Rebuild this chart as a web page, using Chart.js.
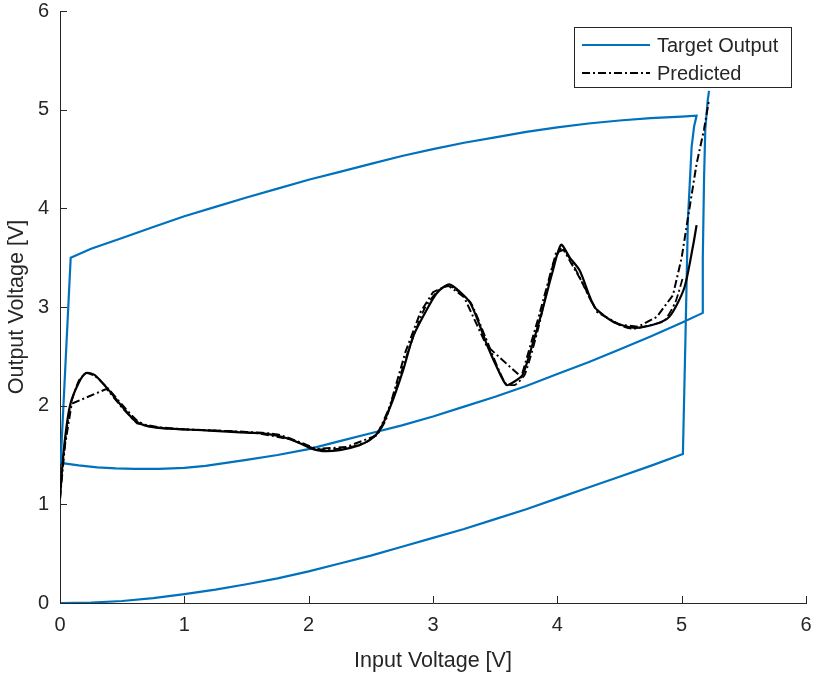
<!DOCTYPE html>
<html>
<head>
<meta charset="utf-8">
<script src="https://cdn.jsdelivr.net/npm/chart.js@4"></script>
<style>
html,body{margin:0;padding:0;background:#fff;}
#wrap{width:818px;height:674px;}
</style>
</head>
<body>
<div id="wrap"><canvas id="c" width="818" height="674"></canvas></div>
<script>
// ---- data ----
const xTicks = [0, 1, 2, 3, 4, 5, 6];
const yTicks = [0, 1, 2, 3, 4, 5, 6];
const seriesNames = ["Target Output", "Predicted"];

// Target output (hysteresis loop, traced in order)
const targetX = [0,0.25,0.5,0.75,1,1.25,1.5,1.75,2,2.25,2.5,2.75,3,3.25,3.5,3.75,4,4.25,4.5,4.75,5.01,
  5.03,5.05,5.08,5.10,5.12,
  5.0,4.75,4.5,4.25,4.0,3.75,3.5,3.25,3.0,2.75,2.5,2.25,2.0,1.75,1.5,1.25,1.0,0.75,0.5,0.25,0.086,
  0.005,
  0.15,0.3,0.45,0.6,0.8,1.0,1.17,1.5,1.75,2,2.25,2.5,2.75,3,3.25,3.5,3.75,4,4.25,4.5,4.75,5,5.17,
  5.17,5.18,5.19,5.21,5.22];
const targetY = [0,0.005,0.02,0.05,0.09,0.135,0.19,0.25,0.32,0.40,0.48,0.57,0.66,0.75,0.85,0.95,1.06,1.17,1.28,1.39,1.51,
  2.66,3.88,4.62,4.83,4.94,
  4.93,4.915,4.89,4.86,4.82,4.775,4.72,4.665,4.60,4.53,4.45,4.37,4.29,4.20,4.11,4.015,3.92,3.81,3.70,3.59,3.50,
  1.42,
  1.395,1.375,1.365,1.36,1.36,1.37,1.39,1.45,1.50,1.56,1.64,1.72,1.80,1.89,1.99,2.09,2.20,2.32,2.44,2.57,2.70,2.84,2.94,
  3.5,4.3,4.8,5.1,5.19];

// Predicted (dash-dot traces)
const predX = [0,0.04,0.094,0.375,0.5,0.62,0.8,1.0,1.3,1.6,1.85,2.05,2.3,2.55,2.62,2.78,2.9,3.0,3.12,3.25,3.43,3.71,3.85,3.99,4.05,4.2,4.32,4.5,4.65,4.8,4.93,5.0,5.05,5.12,5.18,5.22];
const predY = [1.06,1.6,2.02,2.17,1.98,1.82,1.78,1.76,1.745,1.72,1.66,1.56,1.58,1.70,1.85,2.55,2.95,3.15,3.22,3.1,2.61,2.29,2.9,3.55,3.58,3.25,2.95,2.82,2.80,2.9,3.12,3.5,3.9,4.45,4.8,5.1];

const pred2X = [0.02,0.08,0.15,0.21,0.28,0.39,0.5,0.62,0.72,0.9,1.2,1.5,1.75,1.95,2.08,2.3,2.48,2.56,2.66,2.8,2.93,3.05,3.14,3.3,3.42,3.58,3.66,3.74,3.85,3.97,4.04,4.16,4.3,4.46,4.6,4.76,4.86,4.95,5.01];
const pred2Y = [1.40,1.98,2.25,2.33,2.30,2.17,2.01,1.85,1.79,1.765,1.75,1.735,1.71,1.62,1.56,1.57,1.64,1.74,2.02,2.55,2.98,3.18,3.21,3.05,2.70,2.23,2.21,2.32,2.8,3.45,3.6,3.35,3.0,2.84,2.78,2.82,2.86,3.05,3.3];

// Fitted (solid black)
const fitX = [0,0.03,0.08,0.15,0.21,0.28,0.39,0.5,0.6,0.68,0.84,1.17,1.45,1.63,1.8,1.93,2.01,2.11,2.25,2.41,2.5,2.57,2.66,2.76,2.84,2.94,3.03,3.13,3.22,3.3,3.38,3.43,3.51,3.59,3.65,3.72,3.8,3.88,3.96,4.03,4.1,4.18,4.3,4.45,4.61,4.77,4.9,5.02,5.09,5.12];
const fitY = [1.06,1.55,2.0,2.23,2.33,2.31,2.16,1.99,1.85,1.80,1.77,1.75,1.73,1.72,1.68,1.62,1.57,1.54,1.55,1.60,1.66,1.75,2.0,2.36,2.70,2.95,3.14,3.23,3.15,3.04,2.80,2.63,2.40,2.21,2.24,2.31,2.62,2.97,3.35,3.63,3.50,3.37,3.00,2.85,2.79,2.82,2.90,3.19,3.61,3.83];

// ---- build ----
const pts = (xs, ys) => xs.map((x, i) => ({x: x, y: ys[i]}));
const BLUE = '#0072BD';
const AX = '#262626';
const FONT = "'Liberation Sans', Arial, Helvetica, sans-serif";
const DASHDOT = [8, 3, 2, 3];

const innerTicks = {
  id: 'innerTicks',
  afterDraw(chart) {
    const ctx = chart.ctx, xs = chart.scales.x, ys = chart.scales.y, ca = chart.chartArea;
    ctx.save();
    ctx.strokeStyle = AX; ctx.lineWidth = 1;
    ctx.beginPath();
    xTicks.forEach(v => { const p = Math.round(xs.getPixelForValue(v)) + 0.5; ctx.moveTo(p, ca.bottom); ctx.lineTo(p, ca.bottom - 7); });
    yTicks.forEach(v => { const p = Math.round(ys.getPixelForValue(v)) + 0.5; ctx.moveTo(ca.left, p); ctx.lineTo(ca.left + 7, p); });
    ctx.stroke();
    // legend
    const bx = 574.5, by = 27.5, bw = 217, bh = 60;
    ctx.fillStyle = '#fff'; ctx.fillRect(bx, by, bw, bh);
    ctx.strokeStyle = '#262626'; ctx.lineWidth = 1; ctx.strokeRect(bx, by, bw, bh);
    ctx.font = '20px ' + FONT; ctx.textBaseline = 'middle'; ctx.fillStyle = AX; ctx.textAlign = 'left';
    const rows = [{c: BLUE, d: []}, {c: '#000', d: DASHDOT}];
    rows.forEach((r, i) => {
      const y = 45 + i * 28;
      ctx.beginPath(); ctx.strokeStyle = r.c; ctx.lineWidth = 2; ctx.setLineDash(r.d);
      ctx.moveTo(582, y); ctx.lineTo(650, y); ctx.stroke();
      ctx.setLineDash([]);
      ctx.fillText(seriesNames[i], 657, y + 1);
    });
    ctx.restore();
  }
};

new Chart(document.getElementById('c'), {
  type: 'scatter',
  data: {
    datasets: [
      {label: seriesNames[0], data: pts(targetX, targetY), showLine: true, borderColor: BLUE, borderWidth: 2.2, pointRadius: 0, tension: 0, order: 3},
      {label: 'fit', data: pts(fitX, fitY), showLine: true, borderColor: '#000', borderWidth: 2.2, pointRadius: 0, tension: 0.25, order: 2},
      {label: seriesNames[1], data: pts(predX, predY), showLine: true, borderColor: '#000', borderWidth: 2, borderDash: DASHDOT, pointRadius: 0, tension: 0, order: 1},
      {label: 'pred2', data: pts(pred2X, pred2Y), showLine: true, borderColor: '#000', borderWidth: 1.8, borderDash: DASHDOT, pointRadius: 0, tension: 0.2, order: 1}
    ]
  },
  options: {
    responsive: false,
    animation: false,
    layout: {padding: {top: 11, right: 12, left: 0, bottom: 0}},
    plugins: {legend: {display: false}, tooltip: {enabled: false}},
    scales: {
      x: {
        type: 'linear', min: 0, max: 6,
        afterFit(s) { s.height = 71; s.paddingLeft = 0; s.paddingRight = 0; },
        afterBuildTicks(s) { s.ticks = xTicks.map(v => ({value: v})); },
        grid: {display: false, drawTicks: false},
        border: {display: true, color: AX, width: 1},
        ticks: {color: AX, font: {family: FONT, size: 20}, padding: 10, maxRotation: 0},
        title: {display: true, text: 'Input Voltage [V]', color: AX, font: {family: FONT, size: 21.5}, padding: {top: 0, bottom: 0}}
      },
      y: {
        type: 'linear', min: 0, max: 6,
        afterFit(s) { s.width = 60; s.paddingTop = 0; s.paddingBottom = 0; },
        afterBuildTicks(s) { s.ticks = yTicks.map(v => ({value: v})); },
        grid: {display: false, drawTicks: false},
        border: {display: true, color: AX, width: 1},
        ticks: {color: AX, font: {family: FONT, size: 20}, padding: 11},
        title: {display: true, text: 'Output Voltage [V]', color: AX, font: {family: FONT, size: 21.5}, padding: {top: 4, bottom: 0}}
      }
    }
  },
  plugins: [innerTicks]
});
</script>
</body>
</html>
